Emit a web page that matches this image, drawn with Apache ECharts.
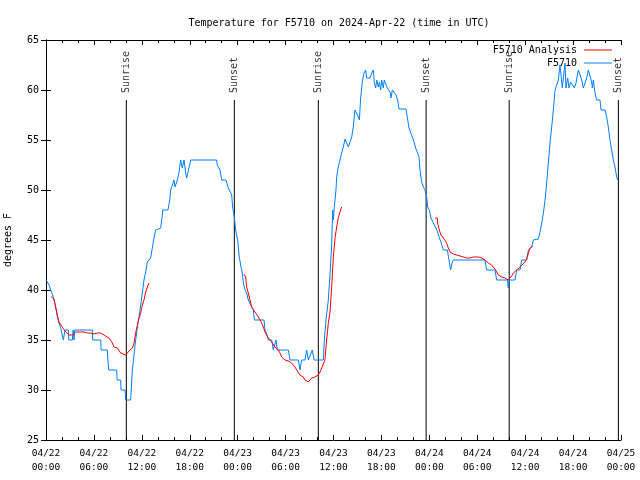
<!DOCTYPE html>
<html>
<head>
<meta charset="utf-8">
<script src="https://cdn.jsdelivr.net/npm/echarts@6/dist/echarts.min.js"></script>
<style>html,body{margin:0;padding:0;background:#fff}#c{width:640px;height:480px}</style>
</head>
<body>
<div id="c"></div>
<script>
// Hours since 04/22 00:00 UTC
const xTickLabels = ['04/22\n00:00','04/22\n06:00','04/22\n12:00','04/22\n18:00','04/23\n00:00','04/23\n06:00','04/23\n12:00','04/23\n18:00','04/24\n00:00','04/24\n06:00','04/24\n12:00','04/24\n18:00','04/25\n00:00'];
const yTicks = [25,30,35,40,45,50,55,60,65];

const blueHours = [0,0.25,0.4,0.58,0.83,1.0,1.21,1.42,1.63,1.84,2.04,2.1,2.17,2.38,2.8,2.85,3.3,3.4,3.5,3.6,5.8,5.85,6.85,6.9,7.68,7.75,7.85,8.85,8.9,9.35,9.4,9.9,9.98,10.6,10.81,11.02,11.23,11.44,11.65,11.86,12.06,12.27,12.48,12.69,13.1,13.31,13.52,13.73,14.36,14.57,14.6,15.28,15.49,15.61,15.8,16.03,16.15,16.3,16.44,16.65,16.86,17.07,17.28,17.49,17.61,17.78,17.99,18.11,21.37,21.45,21.79,22.0,22.54,22.83,23.04,23.25,23.37,23.58,23.75,24.0,24.2,24.42,24.58,24.71,24.92,25.13,25.33,25.75,25.96,26.09,27.3,27.42,27.6,27.84,28.26,28.46,28.8,28.97,30.35,30.55,31.6,31.8,32.0,32.43,32.64,32.85,33.35,33.56,34.73,34.85,35.06,35.35,35.56,35.77,35.9,35.98,36.1,36.19,36.31,36.4,36.6,36.81,37.02,37.23,37.44,37.65,37.86,38.07,38.28,38.48,38.69,38.9,39.11,39.24,39.4,39.61,39.82,40.03,40.15,40.57,40.78,40.99,41.11,41.28,41.41,41.61,41.74,41.91,42.03,42.24,42.36,42.57,42.74,42.86,43.08,43.2,43.37,43.62,43.83,44.03,44.2,45.08,45.24,45.45,45.7,45.92,46.08,46.29,46.54,46.71,46.83,47.04,47.25,47.46,47.67,47.79,48.0,48.21,48.5,48.84,49.04,49.25,49.46,49.75,50.26,50.46,50.67,50.84,51.0,54.97,55.18,56.22,56.43,57.77,57.89,58.01,58.73,58.94,59.35,59.57,60.19,60.4,60.82,61.02,61.65,61.86,62.07,62.28,62.49,62.69,62.9,63.11,63.32,63.53,63.74,63.95,64.15,64.36,64.49,64.65,64.78,64.99,65.11,65.33,65.49,65.7,65.95,66.16,66.37,66.53,66.66,66.87,67.08,67.28,67.49,67.7,67.91,68.12,68.33,68.41,68.54,68.75,68.95,69.37,69.5,70.0,70.21,70.41,70.62,70.83,71.04,71.25,71.46,71.58];
const blueTemps = [41,41,40.5,40,39.5,39,38.3,37.3,36.7,36.2,36,36,35,36,36,35,35,36,35,36,36,35,35,34,34,33,32,32,31,31,30,30,29,29,32,33.5,35,36.3,37.3,38.5,39.7,41,41.8,42.8,43.2,44.2,45.2,46,46.2,47.5,48,48,49,50,50.2,51,50.3,50.2,51,51.7,53,52.2,53,51.7,51.2,51.8,52.5,53,53,52.5,52,51,51,50.2,50,49.5,48.3,47.3,46,45,43.3,42.3,41.7,40.7,40,39.7,39,38.3,38,37,37,36,35.7,35,35,34,35,34,34,33,33,32,33,33,34,33,34,33,33,35,37,39,41.5,44.5,48,47,48.3,48.5,50,51.3,52.3,53,53.7,54.3,55.1,55.1,54.3,54.3,55.3,56.3,58,58,57.3,57,59.2,60.8,61.7,62,61.2,61.2,61.7,62,60.7,60.2,61,60.3,60.8,60,61,60.2,61,60.8,60.2,60,59.8,59.2,60,60,59.5,59,58.1,58.1,57.3,56.2,56,55.2,54.8,54.2,54,53.3,52,50.8,50.3,50,49.3,48.3,48,47.2,46.7,46.2,45.8,45.2,44.8,44,44,43,42,42.7,43,43,42,42,41,41,40.2,41,41,42,42,43,43,44,44.3,45,45.1,45.8,46.7,47.7,49,50.7,52.7,54.7,56.3,58,60,60.2,61,62.5,61.5,60.2,61.2,62.7,60.2,61.2,60.2,60.8,61,60.2,60.7,61.5,62,62,61,60.2,60.2,61.2,62,62,60.8,60.2,61,59.7,59,59,58,58,57.3,56.3,55,54,53,52.3,51.3,51];

const redHours = [0.67,1.0,1.21,1.42,1.63,1.84,2.04,2.25,2.46,2.67,2.88,3.09,3.3,3.5,3.71,3.92,4.34,4.76,5.18,5.59,6.01,6.43,6.85,7.05,7.47,7.89,8.1,8.31,8.51,8.93,9.14,9.35,9.56,9.98,10.19,10.39,10.6,10.81,11.02,11.23,11.44,11.65,11.86,12.06,12.27,12.48,12.69,12.9,
  18,
  24.79,25.0,25.13,25.33,25.54,25.75,25.96,26.17,26.38,26.59,26.8,27.0,27.21,27.42,27.63,27.84,28.05,28.26,28.46,28.67,28.88,29.09,29.3,29.51,29.72,29.92,30.35,30.55,30.76,30.97,31.18,31.39,31.6,31.8,32.22,32.43,32.64,32.85,33.06,33.27,33.47,33.68,33.89,34.1,34.31,34.52,34.73,34.93,35.14,35.35,35.56,35.77,35.98,36.19,36.4,36.6,36.81,37.02,
  43,
  48.71,49.0,49.04,49.25,49.46,49.75,49.96,50.17,50.38,50.59,50.8,51.0,51.42,51.84,52.26,52.68,53.09,53.51,53.72,54.13,54.55,54.97,55.39,55.8,56.22,56.64,57.06,57.48,57.89,58.31,58.52,58.94,59.35,59.56,59.98,60.19,60.4,60.61,60.82,60.94];
const redTemps = [39.3,39.1,38.3,37.5,36.8,36.6,36.3,36.1,35.8,35.7,35.5,35.6,35.5,35.7,35.8,35.9,35.8,35.8,35.7,35.7,35.6,35.7,35.7,35.6,35.4,35.2,35.0,34.7,34.3,34.2,34.0,33.7,33.5,33.5,33.7,33.9,34.0,34.2,34.7,35.7,36.5,37.2,37.7,38.5,39.0,39.8,40.3,40.7,
  null,
  41.6,41.3,40.3,39.7,39.0,38.3,38.2,37.8,37.7,37.3,37.0,36.7,36.3,35.8,35.5,35.2,35.0,34.8,34.7,34.3,34.2,34.0,33.7,33.3,33.1,33.0,32.9,32.8,32.7,32.7,32.3,32.0,31.8,31.5,31.3,31.0,30.8,30.8,31.0,31.2,31.2,31.3,31.3,31.5,31.8,32.2,32.3,33.0,35.0,36.7,37.8,40.3,43.3,45.2,46.3,47.2,47.8,48.3,
  null,
  47.2,47.2,46.7,46.0,45.5,45.2,45.0,44.7,44.2,43.8,43.7,43.6,43.5,43.4,43.3,43.2,43.2,43.3,43.35,43.3,43.2,43.0,42.7,42.5,42.1,41.5,41.3,41.2,41.0,41.4,41.7,42.0,42.3,42.5,42.8,43.1,43.7,44.2,44.4,44.4];

const sunHours = [10.06, 23.58, 34.1, 47.6, 58.0, 71.67];
const sunLabels = ['Sunrise','Sunset','Sunrise','Sunset','Sunrise','Sunset'];
const sunLineTop = 59;
const yMin = 25, yMax = 65;

const zip = (a, b) => a.map((v, i) => [v, b[i]]);
const sunLineData = [];
sunHours.forEach(h => { sunLineData.push([h, yMin]); sunLineData.push([h, sunLineTop]); sunLineData.push([h, null]); });
const sunLabelData = sunHours.map((h, i) => ({ value: [h, sunLineTop], name: sunLabels[i] }));

const FONT = 'DejaVu Sans Mono';
const chart = echarts.init(document.getElementById('c'), null, { renderer: 'canvas' });

const xCommon = {
  type: 'value', min: 0, max: 72, interval: 6,
  axisLine: { show: true, lineStyle: { color: '#000', width: 1 } },
  axisTick: { show: true, inside: true, length: 5, lineStyle: { color: '#000' } },
  minorTick: { show: true, splitNumber: 3, length: 3, lineStyle: { color: '#000' } },
  splitLine: { show: false },
  minorSplitLine: { show: false }
};
const yCommon = {
  type: 'value', min: yMin, max: yMax, interval: 5,
  axisLine: { show: true, lineStyle: { color: '#000', width: 1 } },
  axisTick: { show: true, inside: true, length: 5, lineStyle: { color: '#000' } },
  splitLine: { show: false }
};

chart.setOption({
  animation: false,
  backgroundColor: '#fff',
  title: {
    text: 'Temperature for F5710 on 2024-Apr-22 (time in UTC)',
    left: 334, top: 13, textAlign: 'center',
    textStyle: { fontFamily: FONT, fontSize: 10, fontWeight: 'normal', color: '#000' }
  },
  legend: {
    orient: 'vertical', right: 23, top: 40, align: 'right',
    itemWidth: 28, itemHeight: 1, itemGap: 3,
    textStyle: { fontFamily: FONT, fontSize: 10, color: '#000', padding: [0, 2, 0, 0] },
    data: [
      { name: 'F5710 Analysis', icon: 'rect', itemStyle: { color: '#ff0000' } },
      { name: 'F5710', icon: 'rect', itemStyle: { color: '#0080ff' } }
    ]
  },
  grid: { left: 46, right: 19, top: 40, bottom: 40, containLabel: false, outerBoundsMode: 'none' },
  xAxis: [
    Object.assign({}, xCommon, {
      position: 'bottom',
      axisLabel: { show: true, margin: 7, fontFamily: FONT, fontSize: 9.5, color: '#000', lineHeight: 14,
        formatter: v => xTickLabels[Math.round(v / 6)] }
    }),
    Object.assign({}, xCommon, { position: 'top', axisLabel: { show: false } })
  ],
  yAxis: [
    Object.assign({}, yCommon, {
      position: 'left',
      name: 'degrees F', nameLocation: 'middle', nameGap: 33, nameRotate: 90,
      nameTextStyle: { fontFamily: FONT, fontSize: 10, color: '#000' },
      axisLabel: { show: true, margin: 7, fontFamily: FONT, fontSize: 10, color: '#000', formatter: v => String(v) }
    }),
    Object.assign({}, yCommon, { position: 'right', axisLabel: { show: false } })
  ],
  series: [
    {
      name: 'sunlines', type: 'line', data: sunLineData, symbol: 'none', silent: true,
      lineStyle: { color: '#000', width: 1 }, connectNulls: false, z: 1
    },
    {
      name: 'sunlabels', type: 'scatter', data: sunLabelData, symbolSize: 0, silent: true,
      label: { show: true, position: 'top', distance: 7, rotate: 90, align: 'left', verticalAlign: 'middle',
        formatter: p => p.name, fontFamily: FONT, fontSize: 10, color: '#000' }
    },
    {
      name: 'F5710 Analysis', type: 'line', data: zip(redHours, redTemps), symbol: 'none',
      connectNulls: false, lineStyle: { color: '#ff0000', width: 1 }, itemStyle: { color: '#ff0000' }, z: 3
    },
    {
      name: 'F5710', type: 'line', data: zip(blueHours, blueTemps), symbol: 'none',
      lineStyle: { color: '#0080ff', width: 1 }, itemStyle: { color: '#0080ff' }, z: 2
    }
  ]
});
</script>
</body>
</html>
